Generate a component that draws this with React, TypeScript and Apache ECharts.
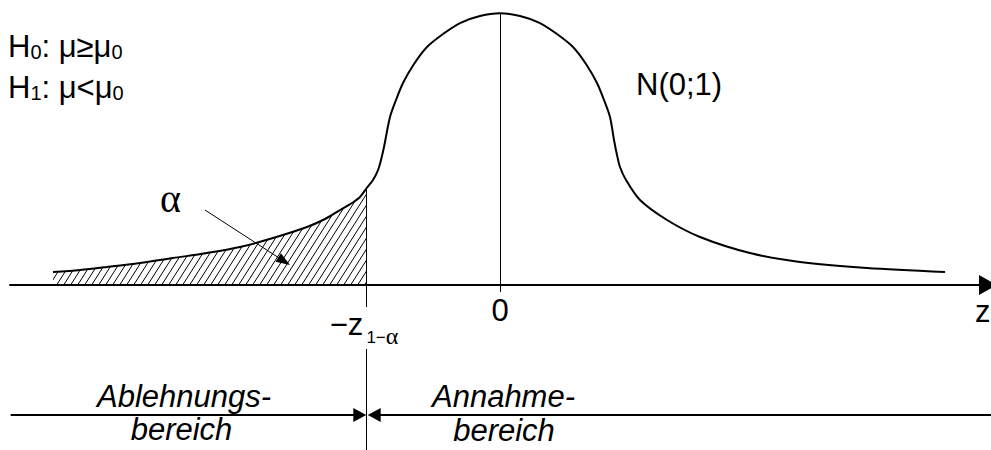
import React, { useEffect, useRef } from 'react';
import * as echarts from 'echarts';

// axis ranges (z units, density units)
const X_MIN = -4.9;
const X_MAX = 4.91;
const Y_MIN = -0.2429;
const Y_MAX = 0.4196;

// hand-drawn bell curve
const curveZ = [
  -4.47, -4.2, -3.93, -3.6, -3.27, -2.93, -2.6, -2.27, -1.93, -1.75, -1.6, -1.48, -1.4, -1.333,
  -1.27, -1.22, -1.19, -1.16, -1.1, -1.04, -0.97, -0.86, -0.73, -0.57, -0.4, -0.2, 0,
  0.2, 0.4, 0.57, 0.73, 0.86, 0.97, 1.04, 1.1, 1.14, 1.17, 1.2, 1.26, 1.4, 1.67, 2.0, 2.5, 3.0, 3.67, 4.45,
];
const curveDensity = [
  0.0191, 0.0221, 0.0265, 0.0324, 0.0397, 0.0471, 0.0559, 0.0692, 0.0854, 0.0972, 0.1104, 0.1207, 0.1296, 0.1428,
  0.1546, 0.1693, 0.184, 0.2032, 0.2473, 0.2724, 0.2974, 0.3254, 0.3504, 0.3695, 0.3857, 0.396, 0.4,
  0.396, 0.3857, 0.3695, 0.3504, 0.3254, 0.2974, 0.2724, 0.2473, 0.2135, 0.1914, 0.1737, 0.1546, 0.1251, 0.0957,
  0.0707, 0.0471, 0.0339, 0.025, 0.0191,
];

// critical value and annotation geometry (data units)
const cutZ = -1.333;
const cutTopY = 0.1428;
const peakY = 0.4;
const centerLineBottom = -0.0103;
const cutGapTop = -0.0324;
const cutGapBottom = -0.0942;
const regionY = -0.1914;
const leftArrowStart = -4.893;
const leftArrowEnd = -1.402;
const rightArrowEnd = -1.258;
const alphaArrowFrom = [-2.95, 0.1104];
const alphaArrowTo = [-2.159, 0.035];

const SANS = 'Liberation Sans';
const SERIF = 'Liberation Serif';

export default function App() {
  const ref = useRef<HTMLDivElement>(null);
  useEffect(() => {
    const chart = echarts.init(ref.current!, null, { renderer: 'svg' });

    const tile = document.createElement('canvas');
    tile.width = 7;
    tile.height = 11;
    const ctx = tile.getContext('2d')!;
    ctx.strokeStyle = '#000';
    ctx.lineWidth = 1;
    for (const dx of [-7, 0, 7]) {
      ctx.beginPath();
      ctx.moveTo(dx, 11);
      ctx.lineTo(dx + 7, 0);
      ctx.stroke();
    }
    const pattern: any = { image: tile, repeat: 'repeat', imageWidth: 7, imageHeight: 11 };

    const pts = curveZ.map((z, i) => [z, curveDensity[i]]);
    const hatchPts = pts.filter((p) => p[0] <= cutZ + 1e-9);

    const seg = (a: number[], b: number[], width: number, arrow?: number[]) => [
      { coord: a, symbol: 'none' },
      {
        coord: b,
        symbol: arrow ? 'triangle' : 'none',
        symbolSize: arrow || 1,
        lineStyle: { color: '#000', width, type: 'solid' },
      },
    ];

    chart.setOption({
      animation: false,
      grid: { left: 10, right: 0, top: 0, bottom: 0, containLabel: false },
      xAxis: {
        type: 'value',
        min: X_MIN,
        max: X_MAX,
        axisLine: {
          show: true,
          onZero: true,
          symbol: ['none', 'triangle'],
          symbolSize: [20, 18],
          symbolOffset: [0, -3],
          lineStyle: { color: '#000', width: 2 },
        },
        axisTick: { show: false },
        axisLabel: { show: false },
        splitLine: { show: false },
      },
      yAxis: {
        type: 'value',
        min: Y_MIN,
        max: Y_MAX,
        show: false,
        splitLine: { show: false },
      },
      series: [
        {
          type: 'line',
          data: hatchPts,
          smooth: 0.3,
          symbol: 'none',
          silent: true,
          lineStyle: { width: 0, opacity: 0 },
          areaStyle: { color: pattern, opacity: 1 },
          z: 1,
        },
        {
          type: 'line',
          data: pts,
          smooth: 0.3,
          symbol: 'none',
          silent: true,
          lineStyle: { color: '#000', width: 2 },
          z: 3,
          markLine: {
            silent: true,
            symbol: ['none', 'none'],
            label: { show: false },
            emphasis: { disabled: true },
            lineStyle: { color: '#000', width: 1, type: 'solid' },
            data: [
              seg([0, peakY], [0, centerLineBottom], 1),
              seg([cutZ, cutTopY], [cutZ, cutGapTop], 1),
              seg([cutZ, cutGapBottom], [cutZ, Y_MIN], 1),
              seg([leftArrowStart, regionY], [leftArrowEnd, regionY], 2, [14, 13]),
              seg([X_MAX, regionY], [rightArrowEnd, regionY], 2, [14, 13]),
              seg(alphaArrowFrom, alphaArrowTo, 1, [10, 14]),
            ],
          },
        },
      ],
    });

    const [x0, y0] = chart.convertToPixel({ gridIndex: 0 }, [0, 0]) as number[];
    const [xc] = chart.convertToPixel({ gridIndex: 0 }, [cutZ, 0]) as number[];

    const txt = (text: string, x: number, y: number, extra: any = {}) => ({
      type: 'text',
      x,
      y,
      silent: true,
      style: {
        text,
        fill: '#000',
        fontFamily: SANS,
        fontSize: 31,
        align: 'left',
        verticalAlign: 'middle',
        ...extra,
      },
    });
    const hyp = {
      a: { fontFamily: SANS, fontSize: 31, lineHeight: 31, verticalAlign: 'bottom' },
      b: { fontFamily: SANS, fontSize: 20, lineHeight: 20, verticalAlign: 'bottom' },
    };

    chart.setOption({
      graphic: [
        txt('{a|H}{b|0}{a|: μ≥μ}{b|0}', 8, 46, { rich: hyp }),
        txt('{a|H}{b|1}{a|: μ<μ}{b|0}', 8, 87.6, { rich: hyp }),
        txt('N(0;1)', 636, 84.3),
        txt('α', 170.5, 198, { fontFamily: SERIF, fontSize: 40, align: 'center' }),
        txt('0', x0, y0 + 25.5, { align: 'center' }),
        txt('−z', xc - 37, y0 + 39.3),
        txt('1−', xc - 0.3, y0 + 52.4, { fontSize: 17 }),
        txt('α', xc + 19.1, y0 + 50.5, { fontFamily: SERIF, fontSize: 24 }),
        txt('z', 975, 311.3),
        txt('Ablehnungs-', 184, 396.3, { align: 'center', fontStyle: 'italic' }),
        txt('bereich', 181.5, 429.3, { align: 'center', fontStyle: 'italic' }),
        txt('Annahme-', 503.5, 396.3, { align: 'center', fontStyle: 'italic' }),
        txt('bereich', 504, 430, { align: 'center', fontStyle: 'italic' }),
      ],
    });

    return () => chart.dispose();
  }, []);
  return (
    <div
      ref={ref}
      style={{ position: 'absolute', left: 0, top: 0, width: 991, height: 450, background: '#fff' }}
    />
  );
}
